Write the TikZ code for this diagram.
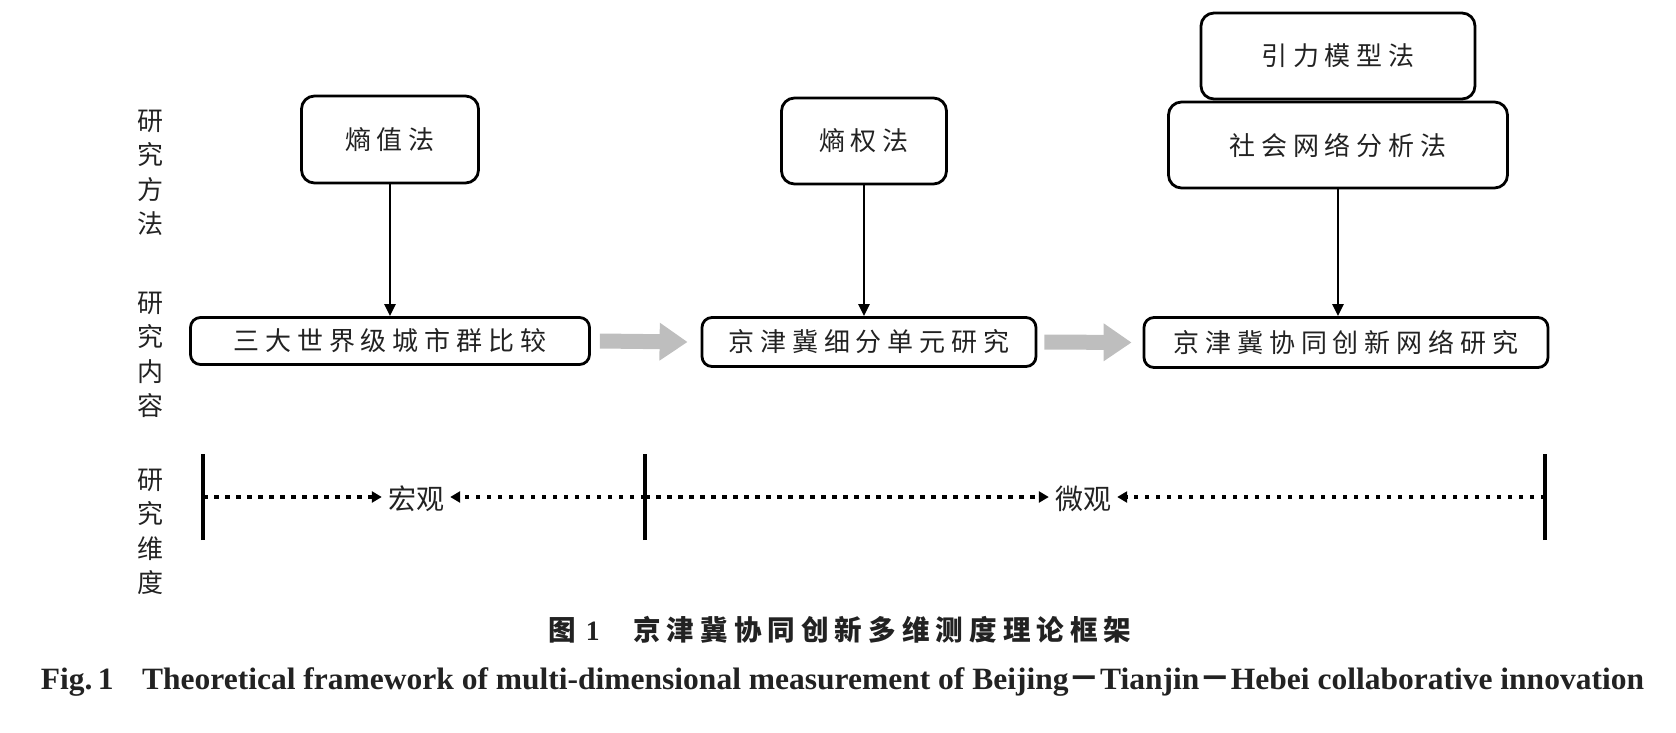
\documentclass[tikz,border=0pt]{standalone}
\usepackage{fontspec}
\usepackage{graphicx}
\setmainfont{Liberation Serif}
\newfontfamily\cjk[LetterSpace=23]{Noto Sans CJK SC}
\newfontfamily\cjkv{Noto Sans CJK SC}
\newfontfamily\cjkcap[LetterSpace=22]{Noto Sans CJK SC}
\usetikzlibrary{arrows.meta}
\definecolor{txt}{HTML}{222222}
\definecolor{arrgray}{HTML}{BEBEBE}
\begin{document}
\begin{tikzpicture}[x=1pt,y=-1pt,
  mbox/.style={draw, line width=2.8pt, rounded corners=13pt, fill=white, inner sep=0pt, text=txt, font=\cjk\fontsize{26}{30}\selectfont},
  cbox/.style={draw, line width=2.8pt, rounded corners=10pt, fill=white, inner sep=0pt, text=txt, font=\cjk\fontsize{26}{30}\selectfont},
  side/.style={align=center, text=txt, font=\cjkv\fontsize{26}{34.5}\selectfont, inner sep=0pt},
  down/.style={-{Triangle[length=12pt,width=11pt]}, line width=2.5pt},
  big/.style={-{Triangle[length=28pt,width=36pt]}, line width=15pt, draw=arrgray},
  dots/.style={line width=4pt, dash pattern=on 4.5pt off 6.5pt, -{Triangle[length=10pt,width=11pt]}},
  bar/.style={line width=3.2pt},
  dimtxt/.style={text=txt, inner sep=6pt, font=\cjkv\fontsize{28}{30}\selectfont},
]
\useasboundingbox (0,0) rectangle (1676,732);

% side labels
\node[side] (l1) at (150,173) {研\\究\\方\\法};
\node[side] (l2) at (150,355) {研\\究\\内\\容};
\node[side] (l3) at (150,532) {研\\究\\维\\度};

% method boxes
\node[mbox, minimum width=177pt, minimum height=87pt] (m1) at (390,139.5) {熵值法};
\node[mbox, minimum width=165pt, minimum height=86pt] (m2) at (864,141) {熵权法};
\node[mbox, minimum width=274pt, minimum height=86pt] (m3) at (1338,56) {引力模型法};
\node[mbox, minimum width=339pt, minimum height=86pt] (m4) at (1338,145) {社会网络分析法};

% content boxes
\node[cbox, minimum width=399pt, minimum height=47pt] (c1) at (390,341) {三大世界级城市群比较};
\node[cbox, minimum width=334pt, minimum height=49pt] (c2) at (869,342) {京津冀细分单元研究};
\node[cbox, minimum width=404pt, minimum height=50pt] (c3) at (1346,342.5) {京津冀协同创新网络研究};

% method arrows
\draw[down] (m1) -- (m1 |- c1.north);
\draw[down] (m2) -- (m2 |- c2.north);
\draw[down] (m4) -- (m4 |- c3.north);

% gray flow arrows
\draw[big] ([xshift=9pt]c1.east) -- ([xshift=-13pt]c2.west);
\draw[big] ([xshift=7pt]c2.east) -- ([xshift=-11pt]c3.west);

% dimension timeline
\coordinate (b1) at (203,497);
\coordinate (b2) at (645,497);
\coordinate (b3) at (1545,497);
\draw[bar] ([yshift=-43pt]b1) -- ([yshift=43pt]b1);
\draw[bar] ([yshift=-43pt]b2) -- ([yshift=43pt]b2);
\draw[bar] ([yshift=-43pt]b3) -- ([yshift=43pt]b3);
\node[dimtxt] (macro) at (416,499) {宏观};
\node[dimtxt] (micro) at (1083,499) {微观};
\draw[dots] (b1) -- (b1 -| macro.west);
\draw[dots] (b2) -- (b2 -| macro.east);
\draw[dots] (b2) -- (b2 -| micro.west);
\draw[dots] (b3) -- (b3 -| micro.east);

% captions
\node[inner sep=0pt, text=txt] (cap1) at (840,630) {\resizebox{583pt}{\height}{\fontsize{28}{30}\selectfont{\cjkcap\bfseries 图}\hspace{10pt}{\bfseries 1}\hspace{34pt}{\cjkcap\bfseries 京津冀协同创新多维测度理论框架}}};
\node[inner sep=0pt, anchor=base, text=txt] (cap2) at (842.5,689) {\resizebox{1603pt}{\height}{\fontsize{31}{34}\selectfont\bfseries Fig.\,1\hspace{28pt}Theoretical framework of multi-dimensional measurement of Beijing{\cjkv\bfseries －}Tianjin{\cjkv\bfseries －}Hebei collaborative innovation}};
\end{tikzpicture}
\end{document}
